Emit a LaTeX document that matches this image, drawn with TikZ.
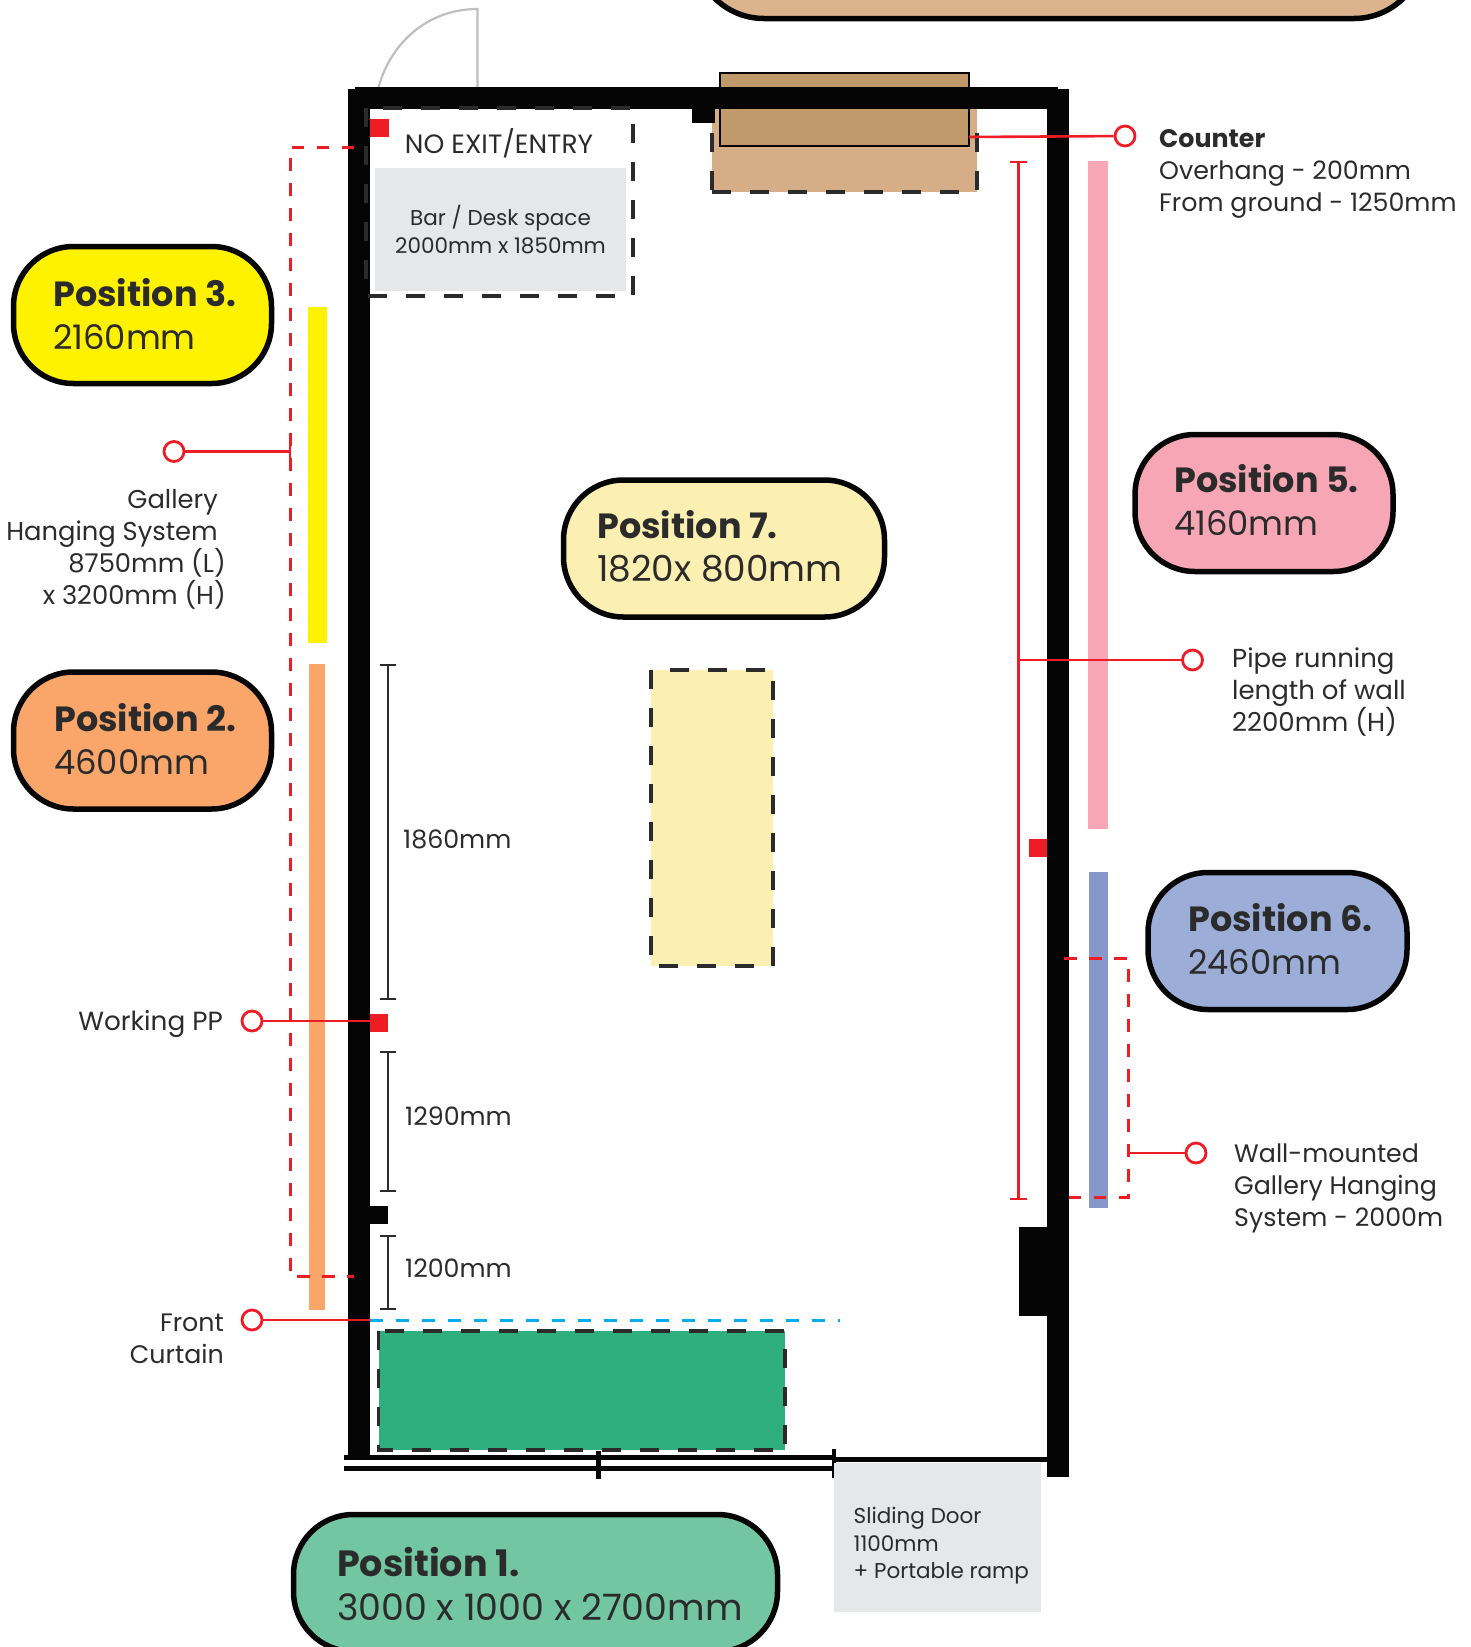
\documentclass[tikz,border=0pt]{standalone}
\usepackage{fontspec}
\setmainfont{Poppins}
\definecolor{wallblack}{HTML}{050505}
\definecolor{inkgrey}{HTML}{2B2B2B}
\definecolor{pinred}{HTML}{EE1C25}
\definecolor{doorgrey}{HTML}{BDBEC0}
\definecolor{boxgrey}{HTML}{E6E7E9}
\definecolor{tanpill}{HTML}{DBB38C}
\definecolor{tanlight}{HTML}{D5AE88}
\definecolor{tandark}{HTML}{C19A6B}
\definecolor{posyellow}{HTML}{FFF200}
\definecolor{posorange}{HTML}{FAA66A}
\definecolor{poscream}{HTML}{FBEFB1}
\definecolor{pospink}{HTML}{F7A6B5}
\definecolor{posblue}{HTML}{9CAED8}
\definecolor{barblue}{HTML}{8797CA}
\definecolor{posgreen}{HTML}{72C6A2}
\definecolor{stagegreen}{HTML}{2FAF7E}
\definecolor{curtainblue}{HTML}{00AEEF}
\newcommand{\postitle}[1]{{\fontsize{35}{43.5}\selectfont\textbf{#1}}}
\tikzset{
    pill node/.style={draw=wallblack, line width=5.5pt, rounded corners=60pt, inner sep=0pt, minimum height=137pt},
    pill text/.style={anchor=west, align=left, text=inkgrey, inner sep=0pt, font=\fontsize{33.8}{43.5}\selectfont},
    note text/.style={anchor=west, align=left, text=inkgrey, inner sep=0pt, font=\fontsize{25.3}{32}\selectfont},
    small text/.style={align=left, text=inkgrey, inner sep=0pt, font=\fontsize{21.5}{27.5}\selectfont},
    pin node/.style={circle, draw=pinred, fill=white, line width=2.8pt, minimum size=20pt, inner sep=0pt},
    pin line/.style={draw=pinred, line width=2.6pt},
    pin dash/.style={draw=pinred, line width=3pt, dash pattern=on 12.5pt off 12.5pt},
    zone dash/.style={draw=inkgrey, line width=3.3pt, dash pattern=on 19pt off 19pt},
    dim line/.style={draw=inkgrey, line width=2pt},
    pin square/.style={fill=pinred},
    wall/.style={fill=wallblack}
}
\begin{document}
\begin{tikzpicture}[x=1pt, y=-1pt]
        \useasboundingbox (0,0) rectangle (1471,1647);
        \clip (0,0) rectangle (1471,1647);

        % cut-off pill at the top
        \node[pill node, fill=tanpill, rounded corners=70pt, minimum width=730pt, minimum height=140pt] (toppill) at (1059,-51.5) {};

        % door
        \draw[doorgrey, line width=2.2pt] (378.5,87) .. controls (392,40) and (430,9) .. (477.5,9) -- (477.5,87);

        % counter
        \fill[tanlight] (712,109) rectangle (977,192);
        \draw[zone dash] (712,192) -- (977,192);
        \draw[zone dash] (712,133) -- (712,192);
        \draw[zone dash] (977,133) -- (977,192);
        \draw[fill=tandark, draw=wallblack, line width=2.2pt] (720,73) rectangle (969,146);

        % walls
        \fill[wall] (355,87) rectangle (1058,109);
        \fill[wall] (348,89) rectangle (370,1455);
        \fill[wall] (1047,89) rectangle (1069,1477);
        \fill[wall] (692,109) rectangle (715,123);
        \fill[wall] (370,1206) rectangle (388,1224);
        \fill[wall] (1019,1227) rectangle (1047,1316);

        % sliding door
        \draw[wallblack, line width=5pt] (344,1457) -- (834,1457);
        \draw[wallblack, line width=5pt] (344,1468) -- (834,1468);
        \draw[wallblack, line width=5pt] (834,1459) -- (1047,1459);
        \draw[wallblack, line width=4.5pt] (598.5,1451) -- (598.5,1479);
        \draw[wallblack, line width=4.5pt] (834,1449) -- (834,1478);

        % bar space
        \fill[boxgrey] (375,168) rectangle (626,291);
        \draw[zone dash] (366,108) rectangle (633,296);
        \node[note text, anchor=center, font=\fontsize{26.5}{32}\selectfont] (noexit) at (499,143) {NO EXIT/ENTRY};
        \node[small text, align=center] (bardesk) at (500.5,229.5) {Bar / Desk space\\2000mm x 1850mm};

        % hanging bars
        \fill[posyellow] (308,306.5) rectangle (327,642.5);
        \fill[posorange] (309,664) rectangle (325,1310);
        \fill[pospink] (1088,161) rectangle (1108,829);
        \fill[barblue] (1089,872) rectangle (1108,1208);

        % zones
        \draw[zone dash, fill=poscream] (651,670) rectangle (773,966);
        \draw[zone dash, fill=stagegreen] (378.5,1331) rectangle (785,1450);
        \fill[boxgrey] (834,1463) rectangle (1041,1612);
        \node[small text, anchor=west] (sliding) at (853.5,1546) {Sliding Door\\1100mm\\+ Portable ramp};

        % pills
        \node[pill node, fill=posyellow, minimum width=258pt] (pos3) at (142.5,315) {};
        \node[pill text] (pos3text) at (53,314) {\postitle{Position 3.}\\2160mm};
        \node[pill node, fill=posorange, minimum width=258pt] (pos2) at (142.5,740.5) {};
        \node[pill text] (pos2text) at (54,739) {\postitle{Position 2.}\\4600mm};
        \node[pill node, fill=poscream, minimum width=321pt] (pos7) at (724,548.5) {};
        \node[pill text, font=\fontsize{35.8}{43.5}\selectfont] (pos7text) at (597,546.5) {\postitle{Position 7.}\\1820x 800mm};
        \node[pill node, fill=pospink, minimum width=258pt] (pos5) at (1264,503) {};
        \node[pill text] (pos5text) at (1174,500) {\postitle{Position 5.}\\4160mm};
        \node[pill node, fill=posblue, minimum width=259pt] (pos6) at (1277.5,941) {};
        \node[pill text] (pos6text) at (1188,939) {\postitle{Position 6.}\\2460mm};
        \node[pill node, fill=posgreen, minimum width=484pt] (pos1) at (535.5,1583) {};
        \node[pill text, font=\fontsize{36.4}{43.5}\selectfont] (pos1text) at (337,1584) {{\fontsize{36.5}{43.5}\selectfont\textbf{Position 1.}}\\3000 x 1000 x 2700mm};

        % dimensions
        \draw[dim line] (380,665) -- (396,665);
        \draw[dim line] (388,665) -- (388,999);
        \draw[dim line] (380,999) -- (396,999);
        \draw[dim line] (380,1052) -- (396,1052);
        \draw[dim line] (388,1052) -- (388,1191);
        \draw[dim line] (380,1191) -- (396,1191);
        \draw[dim line] (380,1236) -- (396,1236);
        \draw[dim line] (388,1236) -- (388,1309);
        \draw[dim line] (380,1309) -- (396,1309);
        \node[note text] (dim1860) at (403,839) {1860mm};
        \node[note text] (dim1290) at (405,1116) {1290mm};
        \node[note text] (dim1200) at (405,1268) {1200mm};

        % power points
        \fill[pin square] (370,119) rectangle (389,137);
        \fill[pin square] (370,1014) rectangle (388,1032);
        \fill[pin square] (1029,839) rectangle (1047,857);

        % red brackets
        \draw[pin dash] (354,147) -- (290,147) -- (290,1276) -- (354,1276);
        \draw[pin line] (1010,162) -- (1027,162);
        \draw[pin line] (1018.5,162) -- (1018.5,1199);
        \draw[pin line] (1010,1199) -- (1027,1199);
        \draw[pin dash] (1064,958) -- (1128,958) -- (1128,1197) -- (1064,1197);

        % curtain
        \draw[curtainblue, line width=3pt, dash pattern=on 13pt off 13pt] (370,1320) -- (840,1320);

        % pins
        \coordinate (counterend) at (969,137);
        \coordinate (galleryend) at (290,451.5);
        \coordinate (ppend) at (370,1021);
        \coordinate (curtainend) at (370,1320);
        \coordinate (pipeend) at (1018.5,660);
        \coordinate (wallend) at (1128,1153);
        \node[pin node] (counterpin) at (1125,136) {};
        \node[pin node] (gallerypin) at (174,451.5) {};
        \node[pin node] (pppin) at (252,1021) {};
        \node[pin node] (curtainpin) at (252,1320) {};
        \node[pin node] (pipepin) at (1192.5,660) {};
        \node[pin node] (wallpin) at (1196,1153) {};
        \draw[pin line] (counterend) -- (counterpin);
        \draw[pin line] (galleryend) -- (gallerypin);
        \draw[pin line] (290,444) -- (290,459);
        \draw[pin line] (ppend) -- (pppin);
        \draw[pin line] (curtainend) -- (curtainpin);
        \draw[pin line] (pipeend) -- (pipepin);
        \draw[pin line] (wallend) -- (wallpin);

        % notes
        \node[note text] (counternote) at (1159,174) {\textbf{Counter}\\Overhang - 200mm\\From ground - 1250mm};
        \node[note text, anchor=east, align=right, font=\fontsize{25.8}{32}\selectfont] (gallerynote) at (226,549) {Gallery\hspace*{8pt}\null\\Hanging System\hspace*{8pt}\null\\8750mm (L)\\x 3200mm (H)};
        \node[note text, anchor=east, font=\fontsize{26.3}{32}\selectfont] (ppnote) at (223,1024) {Working PP};
        \node[note text, anchor=east, align=right] (curtainnote) at (224,1339) {Front\\Curtain};
        \node[note text, font=\fontsize{26}{32}\selectfont] (pipenote) at (1232,692) {Pipe running\\length of wall\\2200mm (H)};
        \node[note text] (wallnote) at (1234,1188) {Wall-mounted\\Gallery Hanging\\System - 2000m};
\end{tikzpicture}
\end{document}
